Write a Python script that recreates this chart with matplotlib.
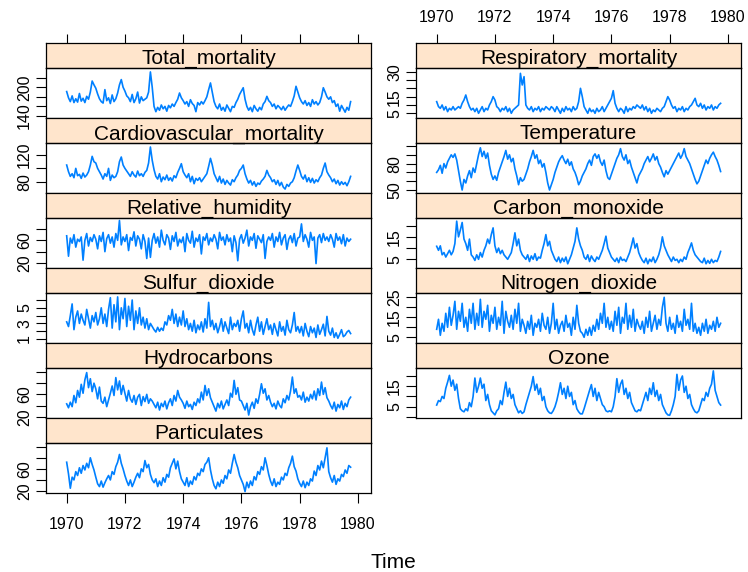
import numpy as np
import matplotlib
matplotlib.use("Agg")
import matplotlib.pyplot as plt

plt.rcParams['font.family'] = ['Liberation Sans', 'DejaVu Sans']

# samples, 16 per year starting at 1970
total_mortality = [
    191, 178, 170, 182, 168, 176, 169, 187, 171, 177, 168, 181, 175, 190, 213, 205,
    198, 186, 176, 170, 167, 195, 172, 178, 166, 184, 170, 176, 188, 205, 216, 200,
    192, 182, 178, 170, 185, 168, 176, 190, 167, 180, 172, 175, 178, 190, 232, 200,
    160, 149, 158, 152, 163, 155, 160, 150, 162, 157, 165, 160, 168, 175, 188, 178,
    172, 165, 170, 160, 174, 166, 162, 149, 168, 163, 170, 165, 172, 180, 195, 209,
    190, 170, 160, 155, 165, 152, 158, 150, 163, 156, 149, 160, 158, 168, 175, 185,
    192, 199, 175, 160, 152, 158, 149, 162, 155, 150, 158, 153, 165, 170, 181, 172,
    168, 160, 165, 155, 162, 158, 153, 160, 152, 158, 163, 160, 170, 182, 202, 190,
    178, 170, 165, 172, 162, 168, 160, 174, 165, 170, 163, 168, 180, 199, 190, 180,
    175, 180, 168, 172, 160, 165, 150, 162, 155, 148, 158, 152, 170]

cardiovascular = [
    105, 95, 88, 92, 86, 100, 89, 91, 85, 93, 87, 90, 95, 105, 118, 110,
    108, 100, 95, 90, 84, 92, 88, 100, 82, 90, 86, 88, 95, 110, 117, 105,
    100, 96, 92, 88, 95, 90, 87, 96, 89, 92, 88, 94, 97, 108, 132, 112,
    98, 88, 84, 92, 80, 87, 83, 90, 82, 86, 81, 89, 86, 94, 100, 107,
    95, 90, 86, 92, 80, 88, 77, 85, 82, 86, 80, 84, 88, 92, 103, 115,
    105, 92, 86, 80, 88, 78, 84, 76, 82, 78, 75, 83, 80, 86, 90, 97,
    100, 105, 92, 84, 78, 82, 75, 80, 73, 78, 76, 81, 84, 88, 97, 90,
    86, 80, 83, 76, 82, 74, 79, 72, 69, 76, 73, 78, 80, 86, 96, 105,
    97, 88, 84, 90, 80, 86, 79, 85, 78, 83, 80, 86, 90, 100, 108, 95,
    90, 86, 80, 84, 77, 82, 75, 80, 76, 79, 74, 80, 88]

humidity = [
    68, 32, 64, 55, 70, 48, 62, 58, 66, 25, 60, 72, 50, 65, 58, 70,
    62, 45, 68, 58, 74, 40, 63, 70, 55, 66, 48, 72, 60, 95, 52, 66,
    58, 70, 42, 65, 60, 75, 50, 68, 62, 45, 70, 58, 28, 64, 30, 60,
    72, 55, 66, 48, 78, 60, 52, 70, 64, 44, 68, 58, 74, 50, 62, 56,
    66, 40, 72, 60, 55, 76, 48, 64, 58, 70, 36, 66, 60, 72, 52, 64,
    58, 70, 62, 45, 74, 60, 66, 52, 70, 58, 64, 40, 68, 56, 24, 62,
    70, 55, 64, 78, 50, 66, 60, 72, 46, 68, 62, 56, 70, 28, 58, 66,
    60, 72, 48, 66, 58, 74, 52, 64, 70, 44, 62, 68, 56, 72, 50, 64,
    66, 89, 58, 70, 62, 48, 74, 60, 66, 19, 64, 70, 56, 72, 60, 66,
    58, 70, 62, 48, 72, 60, 66, 54, 70, 50, 64, 58, 62]

sulfur_dioxide = [
    3.2, 2.6, 4.0, 5.5, 2.2, 3.8, 4.6, 3.0, 4.2, 3.4, 2.8, 4.8, 3.6, 2.4, 4.0, 3.2,
    4.4, 2.8, 3.6, 5.0, 3.0, 4.2, 2.6, 4.8, 6.3, 2.4, 5.4, 3.2, 6.4, 2.2, 5.0, 3.6,
    6.2, 2.6, 5.2, 3.4, 6.0, 2.2, 4.6, 3.0, 5.0, 2.8, 3.8, 2.4, 3.6, 2.2, 3.0, 2.6,
    2.2, 1.9, 2.5, 2.0, 2.4, 2.1, 3.2, 2.8, 4.0, 3.4, 4.8, 3.0, 4.2, 2.6, 3.8, 2.8,
    4.6, 2.6, 3.6, 2.2, 3.0, 2.0, 3.4, 1.8, 2.8, 2.2, 3.2, 1.9, 3.6, 2.4, 5.7, 2.6,
    3.4, 2.2, 3.0, 1.8, 2.6, 3.6, 2.0, 3.2, 2.4, 1.7, 3.8, 2.2, 3.0, 2.6, 3.4, 2.0,
    3.6, 4.6, 2.4, 3.0, 1.8, 3.4, 2.2, 1.5, 2.8, 3.8, 2.0, 3.2, 1.6, 2.6, 3.6, 2.2,
    2.8, 1.6, 3.0, 2.2, 1.4, 3.2, 2.0, 2.6, 1.5, 3.4, 2.2, 1.8, 2.8, 4.4, 2.0, 2.6,
    1.8, 2.6, 1.4, 3.0, 2.0, 1.3, 2.6, 1.8, 2.4, 1.2, 2.8, 1.6, 2.2, 2.9, 1.4, 3.9,
    2.0, 1.5, 2.4, 1.2, 1.8, 1.1, 1.6, 2.2, 1.3, 1.5, 1.9, 2.1, 1.7]

hydrocarbons = [
    43, 36, 46, 38, 58, 45, 67, 55, 78, 62, 86, 99, 72, 88, 65, 80,
    70, 52, 73, 48, 44, 55, 38, 50, 62, 75, 58, 90, 68, 84, 60, 76,
    62, 48, 67, 52, 46, 58, 42, 55, 60, 40, 56, 47, 60, 44, 52, 48,
    42, 36, 46, 32, 44, 38, 48, 34, 45, 52, 40, 58, 48, 67, 55, 50,
    44, 35, 48, 38, 42, 33, 46, 40, 52, 45, 64, 50, 76, 58, 70, 54,
    46, 38, 30, 44, 36, 48, 34, 42, 50, 40, 62, 55, 85, 60, 72, 50,
    48, 40, 32, 44, 23, 38, 46, 35, 52, 44, 60, 79, 62, 70, 50, 58,
    46, 38, 44, 34, 48, 40, 36, 52, 45, 58, 50, 66, 91, 62, 70, 55,
    58, 50, 64, 46, 55, 48, 60, 52, 66, 50, 70, 58, 82, 60, 72, 54,
    48, 40, 34, 46, 30, 42, 36, 48, 33, 44, 38, 50, 55]

particulates = [
    72, 51, 25, 45, 40, 55, 48, 62, 52, 66, 58, 70, 62, 80, 68, 58,
    45, 33, 28, 38, 27, 35, 42, 48, 40, 55, 50, 64, 72, 86, 70, 60,
    48, 38, 30, 40, 28, 36, 45, 52, 44, 60, 55, 75, 62, 68, 50, 40,
    35, 42, 28, 38, 30, 44, 36, 50, 45, 62, 70, 78, 60, 74, 55, 42,
    36, 30, 44, 28, 38, 32, 46, 40, 52, 48, 60, 55, 68, 72, 80, 58,
    42, 30, 24, 36, 28, 40, 34, 48, 42, 58, 52, 70, 86, 72, 62, 48,
    40, 32, 19, 36, 26, 38, 30, 46, 40, 55, 50, 64, 58, 80, 66, 50,
    38, 30, 42, 28, 36, 32, 45, 40, 52, 48, 62, 70, 83, 64, 56, 42,
    34, 28, 38, 26, 36, 30, 42, 38, 56, 48, 66, 58, 74, 62, 80, 98,
    55, 44, 36, 48, 32, 42, 38, 50, 46, 58, 52, 66, 63]

respiratory = [
    12, 9, 8, 10, 7, 9, 6, 8, 7, 9, 7, 8, 9, 8, 11, 13,
    16, 12, 9, 7, 8, 6, 8, 5, 7, 9, 6, 8, 7, 10, 12, 15,
    13, 9, 8, 6, 8, 7, 9, 6, 8, 5, 7, 8, 9, 10, 29, 22,
    27, 10, 8, 7, 9, 6, 8, 7, 9, 6, 8, 7, 9, 8, 7, 9,
    8, 6, 9, 7, 5, 8, 6, 9, 7, 8, 6, 9, 7, 8, 12, 20,
    15, 9, 7, 5, 8, 6, 7, 5, 8, 6, 7, 9, 6, 8, 10, 12,
    14, 18.6, 11, 8, 6, 8, 7, 5, 9, 6, 8, 7, 9, 8, 10, 9,
    8, 10, 7, 9, 6, 8, 5, 7, 6, 8, 7, 6, 8, 9, 12, 15,
    13, 10, 8, 9, 6, 8, 7, 9, 6, 8, 7, 9, 10, 12, 14, 10,
    9, 11, 8, 10, 7, 9, 8, 10, 7, 9, 8, 10, 11]

temperature = [
    70, 73, 78, 69, 80, 75, 82, 86, 90, 87, 91, 84, 72, 60, 50, 62,
    58, 66, 72, 64, 75, 70, 80, 90, 98, 88, 94, 86, 92, 78, 68, 62,
    66, 61, 70, 76, 82, 88, 95, 85, 90, 82, 86, 74, 66, 56, 64, 60,
    62, 68, 74, 82, 88, 95, 86, 90, 80, 84, 76, 80, 70, 58, 50, 56,
    62, 70, 76, 82, 86, 89, 84, 80, 85, 78, 82, 74, 70, 64, 56, 60,
    66, 70, 74, 80, 84, 78, 88, 91, 86, 90, 82, 78, 84, 72, 64, 62,
    68, 74, 80, 86, 90, 97, 88, 84, 90, 80, 84, 76, 70, 64, 58, 66,
    70, 74, 80, 84, 88, 82, 86, 91, 84, 88, 80, 76, 70, 65, 72, 68,
    72, 76, 80, 84, 88, 92, 86, 90, 97, 88, 84, 80, 74, 68, 62, 57,
    60, 66, 72, 78, 84, 80, 86, 90, 93, 88, 84, 78, 71]

carbon_monoxide = [
    10.8, 9, 11, 7, 8, 6, 7.5, 9, 7, 8.5, 12, 22, 15, 18, 21.4, 14,
    12, 9, 14, 7, 6, 4.5, 7, 5, 8, 6, 9, 11, 14, 12, 16, 19,
    11, 8, 10, 7.5, 9, 7, 6, 5, 6.5, 8, 12, 16.8, 11, 14, 9, 7,
    6, 5, 7, 4, 6.5, 5, 7.5, 4.5, 6, 5.5, 9, 12, 16, 11, 13, 9,
    7, 5, 4, 6, 3.5, 5.5, 4, 6, 3, 5, 7, 10, 13, 19, 14, 11,
    9, 6, 5, 7, 4, 6.5, 5, 4, 6, 5, 7, 9, 12, 15.3, 10, 8,
    6, 5, 4, 5.5, 3.5, 6, 4.5, 5, 4, 6, 8, 11, 14.5, 10, 12, 8,
    6, 4.5, 3.5, 5.5, 3, 5, 4, 6, 3.5, 5, 7, 10, 15, 11, 9, 7,
    5.5, 4, 6, 4.5, 5, 3.5, 5, 4, 6, 5, 8, 10, 12.3, 9, 7, 6,
    5, 4, 3.5, 5.5, 3, 4.5, 3.2, 5, 3.5, 4.5, 4, 6, 8.5]

nitrogen_dioxide = [
    9, 14, 6, 12, 8, 17, 10, 20, 11, 16, 23, 9, 18, 13, 22, 10,
    15, 8, 19, 12, 22, 9, 17, 11, 24, 10, 18, 14, 21, 8, 16, 12,
    20, 9, 15, 11, 23, 7, 18, 13, 10, 16, 9, 19, 12, 22, 8, 14,
    11, 7, 13, 9, 16, 6, 12, 10, 14, 8, 17, 11, 9, 15, 7, 12,
    22, 9, 14, 7, 11, 13, 8, 16, 10, 12, 6, 15, 9, 21, 12, 8,
    7, 5, 9, 6, 10, 6, 11, 8, 14, 9, 17, 12, 22, 10, 15, 9,
    13, 8, 18, 11, 20, 7, 15, 12, 22, 9, 16, 10, 19, 8, 14, 11,
    9, 13, 7, 15, 10, 18, 8, 12, 16, 9, 14, 11, 20, 25, 12, 8,
    15, 9, 12, 7, 16, 10, 13, 8, 19, 11, 14, 9, 22, 8, 12, 7,
    10, 6, 12, 8, 14, 7, 11, 9, 13, 8, 15, 10, 12]

ozone = [
    5.8, 8, 7.5, 10, 9, 14, 17, 20.3, 15, 18, 13, 16, 9, 4, 3, 2.5,
    4, 3, 7, 5, 10, 19, 12, 15, 19, 14, 16, 8, 11, 6, 3, 2,
    1, 3, 4, 8, 6, 12, 17, 10, 14, 9, 11, 6, 4, 2, 3, 1.7,
    2.5, 6, 9, 12, 15, 19.7, 13, 16, 11, 14, 8, 10, 5, 3, 2, 1.7,
    3, 5, 8, 12, 16.7, 11, 14, 9, 15, 10, 12, 6, 8, 4, 2.5, 1.5,
    1.5, 4, 7, 10, 13, 15.8, 10, 14, 8, 12, 9, 6, 5, 3, 2.5, 3,
    2.5, 5, 10, 18.7, 12, 16, 18, 11, 14, 9, 12, 7, 5, 3, 2.5, 3.5,
    3, 6, 9, 12, 8, 14, 11, 16.7, 10, 13, 8, 11, 6, 4, 2, 1,
    0.8, 3, 6, 10, 20.8, 13, 18, 20, 12, 15, 9, 11, 6, 4, 2.5, 2,
    3, 6, 9, 8, 12, 10, 14, 16, 22.5, 13, 10, 7, 5.8]

year_ticks = [1970, 1972, 1974, 1976, 1978, 1980]

# name, values, column, row, y limits, ticks, tick labels
panels = [
    ("Total_mortality", total_mortality, 0, 0, (135.8, 240.2),
     [140, 160, 180, 200, 220], ["140", "", "", "200", ""]),
    ("Cardiovascular_mortality", cardiovascular, 0, 1, (63.1, 138.0),
     [80, 100, 120], ["80", "", "120"]),
    ("Relative_humidity", humidity, 0, 2, (11.2, 99.4),
     [20, 40, 60, 80], ["20", "", "60", ""]),
    ("Sulfur_dioxide", sulfur_dioxide, 0, 3, (0.49, 6.9),
     [1, 2, 3, 4, 5, 6], ["1", "", "3", "", "5", ""]),
    ("Hydrocarbons", hydrocarbons, 0, 4, (17.7, 107.2),
     [20, 40, 60, 80, 100], ["20", "", "60", "", ""]),
    ("Particulates", particulates, 0, 5, (16.4, 106.7),
     [20, 40, 60, 80, 100], ["20", "", "60", "", ""]),
    ("Respiratory_mortality", respiratory, 1, 0, (2.18, 32.2),
     [5, 10, 15, 20, 25, 30], ["5", "", "15", "", "", "30"]),
    ("Temperature", temperature, 1, 1, (46.6, 103.4),
     [50, 60, 70, 80, 90, 100], ["50", "", "", "80", "", ""]),
    ("Carbon_monoxide", carbon_monoxide, 1, 2, (1.12, 23.4),
     [5, 10, 15, 20], ["5", "", "15", ""]),
    ("Nitrogen_dioxide", nitrogen_dioxide, 1, 3, (2.15, 27.15),
     [5, 10, 15, 20, 25], ["5", "", "15", "", "25"]),
    ("Ozone", ozone, 1, 4, (-0.52, 23.9),
     [0, 5, 10, 15, 20], ["", "5", "", "15", ""]),
]

W, H = 748, 572
col_x = [(46, 371), (416, 741)]
xlim = (1969.29, 1980.45)
blue = "#0080FF"
peach = "#FFE5CC"

fig = plt.figure(figsize=(W / 100, H / 100), dpi=100)


def box(x0, x1, top, bottom):
    return [x0 / W, 1 - bottom / H, (x1 - x0) / W, (bottom - top) / H]


for name, vals, col, row, ylim, ticks, labels in panels:
    x0, x1 = col_x[col]
    top = 43 + 75 * row
    # strip
    sax = fig.add_axes(box(x0, x1, top, top + 25))
    sax.set_facecolor(peach)
    sax.set_xlim(xlim)
    sax.set_ylim(0, 1)
    sax.set_yticks([])
    sax.set_xticks([])
    sax.text(0.5, 0.15, name, transform=sax.transAxes, ha="center",
             va="baseline", fontsize=15, zorder=5)
    if row == 0:
        sax.set_xticks(year_ticks)
        sax.tick_params(axis="x", top=True, bottom=False, labeltop=(col == 1),
                        labelbottom=False, length=6.5, width=0.8,
                        direction="out", pad=6.5, labelsize=11.5)
    # panel
    ax = fig.add_axes(box(x0, x1, top + 25, top + 75))
    ax.set_facecolor("none")
    t = 1970 + np.arange(len(vals)) / 16
    ax.plot(t, vals, color=blue, lw=1.2)
    ax.set_xlim(xlim)
    ax.set_ylim(ylim)
    ax.set_yticks(ticks)
    ax.set_yticklabels(labels, rotation=90, va="center")
    ax.tick_params(axis="y", length=7, width=0.8, direction="out", pad=3,
                   labelsize=11.5)
    if col == 0 and row == 5:
        ax.set_xticks(year_ticks)
        ax.tick_params(axis="x", length=7, width=0.8, direction="out",
                       pad=10.5, labelsize=11.5)
    else:
        ax.set_xticks([])
    for a in (ax, sax):
        for s in a.spines.values():
            s.set_linewidth(0.9)

fig.text(393 / W, 1 - 562 / H, "Time", ha="center", va="center", fontsize=15)

fig.savefig("out.png", dpi=100)
